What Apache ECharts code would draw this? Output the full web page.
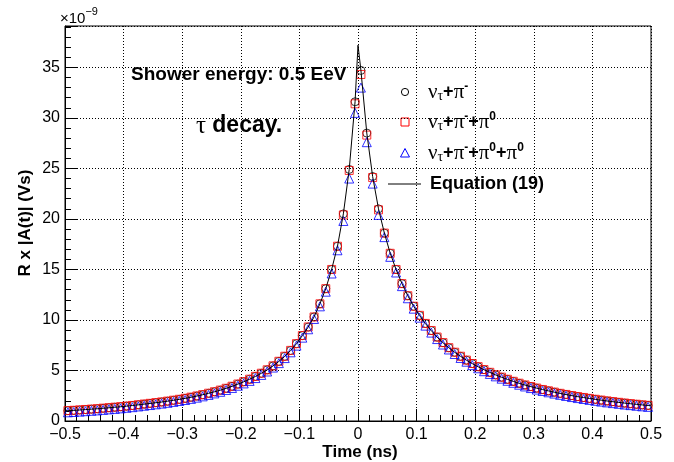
<!DOCTYPE html>
<html>
<head>
<meta charset="utf-8">
<script src="https://cdn.jsdelivr.net/npm/echarts@6/dist/echarts.min.js"></script>
<style>html,body{margin:0;padding:0;background:#fff}#c{width:674px;height:462px}</style>
</head>
<body>
<div id="c"></div>
<script>
// Time bin centres (ns)
const times = [
 -0.495,-0.485,-0.475,-0.465,-0.455,-0.445,-0.435,-0.425,-0.415,-0.405,
 -0.395,-0.385,-0.375,-0.365,-0.355,-0.345,-0.335,-0.325,-0.315,-0.305,
 -0.295,-0.285,-0.275,-0.265,-0.255,-0.245,-0.235,-0.225,-0.215,-0.205,
 -0.195,-0.185,-0.175,-0.165,-0.155,-0.145,-0.135,-0.125,-0.115,-0.105,
 -0.095,-0.085,-0.075,-0.065,-0.055,-0.045,-0.035,-0.025,-0.015,-0.005,
 0.005,0.015,0.025,0.035,0.045,0.055,0.065,0.075,0.085,0.095,
 0.105,0.115,0.125,0.135,0.145,0.155,0.165,0.175,0.185,0.195,
 0.205,0.215,0.225,0.235,0.245,0.255,0.265,0.275,0.285,0.295,
 0.305,0.315,0.325,0.335,0.345,0.355,0.365,0.375,0.385,0.395,
 0.405,0.415,0.425,0.435,0.445,0.455,0.465,0.475,0.485,0.495
];
// nu_tau + pi-  (x1e-9 Vs)
const circleVals = [
 1.02,1.05,1.09,1.13,1.17,1.21,1.26,1.31,1.36,1.41,
 1.47,1.53,1.60,1.67,1.74,1.81,1.88,1.96,2.05,2.14,
 2.24,2.35,2.47,2.60,2.74,2.89,3.05,3.23,3.43,3.65,
 3.88,4.13,4.41,4.72,5.06,5.45,5.90,6.40,6.98,7.65,
 8.45,9.30,10.3,11.6,13.1,15.0,17.3,20.5,24.9,31.6,
 34.7,28.5,24.2,21.0,18.6,16.6,15.0,13.6,12.4,11.35,
 10.45,9.65,8.95,8.30,7.75,7.25,6.80,6.40,6.02,5.68,
 5.37,5.08,4.81,4.56,4.33,4.12,3.92,3.73,3.56,3.40,
 3.25,3.11,2.98,2.85,2.73,2.62,2.51,2.41,2.32,2.23,
 2.14,2.06,1.98,1.91,1.84,1.77,1.71,1.65,1.59,1.54
];
// nu_tau + pi- + pi0
const squareVals = [
 1.03,1.06,1.10,1.14,1.18,1.22,1.27,1.32,1.37,1.42,
 1.48,1.54,1.61,1.68,1.75,1.82,1.89,1.97,2.06,2.15,
 2.25,2.36,2.48,2.61,2.75,2.90,3.06,3.24,3.44,3.66,
 3.89,4.14,4.42,4.73,5.07,5.46,5.91,6.41,6.99,7.66,
 8.46,9.31,10.3,11.6,13.1,15.0,17.3,20.4,24.8,31.4,
 34.3,28.3,24.1,20.9,18.6,16.6,15.0,13.6,12.4,11.36,
 10.46,9.66,8.96,8.31,7.76,7.26,6.81,6.41,6.03,5.69,
 5.38,5.09,4.82,4.57,4.34,4.13,3.93,3.74,3.57,3.41,
 3.26,3.12,2.99,2.86,2.74,2.63,2.52,2.42,2.33,2.24,
 2.15,2.07,1.99,1.92,1.85,1.78,1.72,1.66,1.60,1.55
];
// nu_tau + pi- + pi0 + pi0
const triangleVals = [
 0.86,0.89,0.93,0.97,1.01,1.05,1.10,1.15,1.20,1.25,
 1.31,1.37,1.44,1.51,1.58,1.65,1.72,1.80,1.89,1.98,
 2.08,2.19,2.31,2.44,2.58,2.73,2.89,3.07,3.27,3.49,
 3.72,3.97,4.25,4.56,4.90,5.29,5.73,6.23,6.80,7.46,
 8.25,9.08,10.1,11.35,12.8,14.6,16.9,19.8,24.0,30.5,
 33.0,27.6,23.5,20.4,18.2,16.25,14.7,13.35,12.15,11.12,
 10.23,9.44,8.75,8.11,7.57,7.08,6.63,6.24,5.87,5.53,
 5.22,4.93,4.66,4.42,4.19,3.98,3.78,3.59,3.42,3.26,
 3.11,2.97,2.84,2.71,2.59,2.48,2.37,2.27,2.18,2.09,
 2.00,1.92,1.84,1.77,1.70,1.63,1.57,1.51,1.45,1.40
];
// Equation (19): end points and the cusp, the rest follow the circle points
const eqExtraTimes = [-0.5, 0, 0.5];
const eqExtraVals = [1.0, 37.2, 1.56];

const xTicks = [-0.5,-0.4,-0.3,-0.2,-0.1,0,0.1,0.2,0.3,0.4,0.5];
const yTicks = [0,5,10,15,20,25,30,35];

const pts = (v) => times.map((t, i) => [t, v[i]]);
const eqData = pts(circleVals).concat(eqExtraTimes.map((t, i) => [t, eqExtraVals[i]]))
  .sort((a, b) => a[0] - b[0]);

const SANS = '"Liberation Sans", Arial, Helvetica, sans-serif';
const SERIF = '"Liberation Serif", "Times New Roman", serif';

const axisCommon = () => ({
  axisLine: {show: true, onZero: false, lineStyle: {color: '#000', width: 1}},
  axisTick: {show: true, inside: true, length: 12, lineStyle: {color: '#000', width: 1}},
  minorTick: {show: true, splitNumber: 5, length: 6, lineStyle: {color: '#000', width: 1}},
  splitLine: {show: true, lineStyle: {color: '#000', width: 1, type: [1, 2]}},
  minorSplitLine: {show: false}
});

const fmt = (v) => {
  const r = Math.round(v * 10) / 10;
  if (r === 0) return '0';
  return r < 0 ? '\u2212' + Math.abs(r) : String(r);
};

const chart = echarts.init(document.getElementById('c'), null, {renderer: 'canvas'});
const mk = (name, vals, symbol, color, size) => ({
  name, type: 'scatter', data: pts(vals), symbol, symbolSize: size,
  itemStyle: {color: 'rgba(0,0,0,0)', borderColor: color, borderWidth: 1},
  emphasis: {disabled: true}, z: 3
});

chart.setOption({
  animation: false,
  backgroundColor: '#fff',
  grid: {left: 65, right: 23, top: 26, bottom: 41, show: true, borderColor: '#000', borderWidth: 1, backgroundColor: '#fff'},
  xAxis: Object.assign({
    type: 'value', min: xTicks[0], max: xTicks[xTicks.length - 1], interval: 0.1,
    axisLabel: {formatter: fmt, color: '#000', fontFamily: SANS, fontSize: 16, margin: 6, showMinLabel: true, showMaxLabel: true}
  }, axisCommon()),
  yAxis: Object.assign({
    type: 'value', min: 0, max: 39.1, interval: 5,
    axisLabel: {formatter: (v) => (yTicks.indexOf(Math.round(v)) >= 0 && Math.abs(v - Math.round(v)) < 1e-6) ? String(Math.round(v)) : '',
      color: '#000', fontFamily: SANS, fontSize: 16, margin: 5, showMaxLabel: false}
  }, axisCommon()),
  series: [
    mk('circle', circleVals, 'circle', '#000', 8),
    mk('square', squareVals, 'rect', '#ff0000', 8),
    mk('triangle', triangleVals, 'triangle', '#0000ff', 9),
    {name: 'eq', type: 'line', data: eqData, showSymbol: false, symbol: 'none',
     lineStyle: {color: '#000', width: 1}, emphasis: {disabled: true}, z: 4}
  ],
  graphic: [
    // exponent
    {type: 'text', left: 60, top: 6, style: {text: '{a|\u00d710}{s|\u22129}', rich: {
      a: {fontFamily: SANS, fontSize: 15, fill: '#000', lineHeight: 20, verticalAlign: 'bottom'},
      s: {fontFamily: SANS, fontSize: 11, fill: '#000', lineHeight: 20, verticalAlign: 'top'}}}},
    // axis titles
    {type: 'text', x: 360, y: 452, style: {text: 'Time (ns)', font: 'bold 17px ' + SANS, fill: '#000', align: 'center', verticalAlign: 'middle'}},
    {type: 'text', x: 25, y: 223, rotation: Math.PI / 2, style: {text: 'R x |A(t)| (Vs)', font: 'bold 17px ' + SANS, fill: '#000', align: 'center', verticalAlign: 'middle'}},
    // annotations
    {type: 'text', x: 131, y: 75, style: {text: 'Shower energy: 0.5 EeV', font: 'bold 19px ' + SANS, fill: '#000', align: 'left', verticalAlign: 'middle'}},
    {type: 'text', x: 196, y: 126, style: {text: '{g|\u03c4 }{b|decay.}', rich: {
      g: {fontFamily: SERIF, fontSize: 25, fill: '#000'},
      b: {fontFamily: SANS, fontWeight: 'bold', fontSize: 23, fill: '#000'}}, verticalAlign: 'middle'}},
    // legend markers
    {type: 'circle', shape: {cx: 405, cy: 92, r: 3.6}, style: {fill: 'none', stroke: '#000', lineWidth: 1}},
    {type: 'rect', shape: {x: 401, y: 118, width: 8, height: 8}, style: {fill: 'none', stroke: '#ff0000', lineWidth: 1}},
    {type: 'polygon', shape: {points: [[405, 148.5], [409.5, 157], [400.5, 157]]}, style: {fill: 'none', stroke: '#0000ff', lineWidth: 1}},
    {type: 'line', shape: {x1: 388, y1: 184, x2: 421, y2: 184}, style: {stroke: '#000', lineWidth: 1}},
    // legend texts
    ...[
      {y: 81, t: '{g|\u03bd}{sub|\u03c4}{b|+}{g|\u03c0}{sup|-}'},
      {y: 111, t: '{g|\u03bd}{sub|\u03c4}{b|+}{g|\u03c0}{sup|-}{b|+}{g|\u03c0}{sup|0}'},
      {y: 142, t: '{g|\u03bd}{sub|\u03c4}{b|+}{g|\u03c0}{sup|-}{b|+}{g|\u03c0}{sup|0}{b|+}{g|\u03c0}{sup|0}'}
    ].map(o => ({type: 'text', left: 428, top: o.y, style: {text: o.t, rich: {
      g: {fontFamily: SERIF, fontSize: 21, fill: '#000', lineHeight: 22, verticalAlign: 'middle'},
      b: {fontFamily: SANS, fontWeight: 'bold', fontSize: 18, fill: '#000', lineHeight: 22, verticalAlign: 'middle'},
      sub: {fontFamily: SERIF, fontSize: 14, fill: '#000', lineHeight: 22, verticalAlign: 'bottom'},
      sup: {fontFamily: SANS, fontWeight: 'bold', fontSize: 12, fill: '#000', lineHeight: 22, verticalAlign: 'top'}}}})),
    {type: 'text', x: 430, y: 184, style: {text: 'Equation (19)', font: 'bold 18px ' + SANS, fill: '#000', align: 'left', verticalAlign: 'middle'}}
  ]
});
</script>
</body>
</html>
